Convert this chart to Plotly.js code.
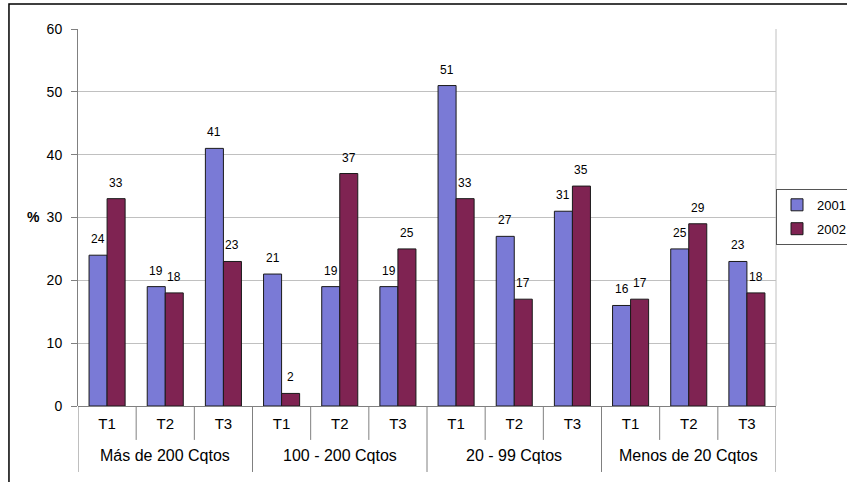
<!DOCTYPE html>
<html>
<head>
<meta charset="utf-8">
<script src="https://cdn.plot.ly/plotly-3.0.1.min.js"></script>
<style>
html,body{margin:0;padding:0;background:#fff;}
#chart{width:847px;height:482px;}
</style>
</head>
<body>
<div id="chart"></div>
<script>
const groups = ["Más de 200 Cqtos","Más de 200 Cqtos","Más de 200 Cqtos",
                "100 - 200 Cqtos","100 - 200 Cqtos","100 - 200 Cqtos",
                "20 - 99 Cqtos","20 - 99 Cqtos","20 - 99 Cqtos",
                "Menos de 20 Cqtos","Menos de 20 Cqtos","Menos de 20 Cqtos"];
const periods = ["T1","T2","T3","T1","T2","T3","T1","T2","T3","T1","T2","T3"];
const v2001 = [24,19,41,21,19,19,51,27,31,16,25,23];
const v2002 = [33,18,23,2,37,25,33,17,35,17,29,18];
const yTicks = [0,10,20,30,40,50,60];

const font = "Liberation Sans, Arial, sans-serif";
const BARGAP = 0.38;
const half = (1 - BARGAP) / 4; // offset of each bar centre from category centre
const idx = periods.map((_, i) => i);

const traces = [
  {type:"bar", name:"2001", legendgroup:"a", x:idx, y:v2001,
   marker:{color:"#7a7ad6", line:{color:"#1a1a1a", width:1}}},
  {type:"bar", name:"2002", legendgroup:"b", x:idx, y:v2002,
   marker:{color:"#7f2352", line:{color:"#1a1a1a", width:1}}}
];

const annotations = [];
// value labels above bars
[[v2001, -half], [v2002, half]].forEach(([vals, off]) => {
  vals.forEach((v, i) => {
    annotations.push({xref:"x", yref:"y", x:i + off, y:v, text:String(v), showarrow:false,
                      yanchor:"bottom", yshift:7, font:{family:font, size:12, color:"#000"}});
  });
});
// group labels (second category level)
const uniqueGroups = [...new Set(groups)];
uniqueGroups.forEach(g => {
  const members = idx.filter(i => groups[i] === g);
  const centre = members.reduce((a, b) => a + b, 0) / members.length;
  annotations.push({xref:"x", yref:"paper", x:centre, y:-0.1326, text:g, showarrow:false,
                    xanchor:"center", yanchor:"middle", font:{family:font, size:16, color:"#000"}});
});
// horizontal "%" axis label
annotations.push({xref:"paper", yref:"paper", x:-0.064, y:0.501, xanchor:"center", yanchor:"middle",
                  text:"<b>%</b>", showarrow:false, font:{family:font, size:14, color:"#000"}});

const shapes = [];
// cell dividers: short between periods, long between groups and at both ends
for (let i = -1; i < periods.length; i++) {
  const isGroupEdge = i === -1 || i === periods.length - 1 || groups[i] !== groups[i + 1];
  shapes.push({type:"line", xref:"x", yref:"paper", x0:i + 0.5, x1:i + 0.5, y0:0,
               y1:isGroupEdge ? -0.175 : -0.09, line:{color:"#808080", width:1}});
}
// plot area right border
shapes.push({type:"line", xref:"paper", yref:"paper", x0:1, x1:1, y0:0, y1:1,
             line:{color:"#c0c0c0", width:1}});
// outer chart border
shapes.push({type:"rect", xref:"paper", yref:"paper", x0:-0.0989, x1:1.3, y0:-0.3, y1:1.0663,
             line:{color:"#000", width:1.5}, fillcolor:"rgba(0,0,0,0)"});

const layout = {
  width:847, height:482,
  margin:{l:78, r:71, t:29, b:76, autoexpand:false},
  paper_bgcolor:"#fff", plot_bgcolor:"#fff",
  font:{family:font, size:14, color:"#000"},
  barmode:"group", bargap:BARGAP, bargroupgap:0,
  showlegend:true,
  legend:{x:1.0, xanchor:"left", y:0.576, yanchor:"top", bordercolor:"#555", borderwidth:1,
          font:{family:font, size:13}, traceorder:"grouped", tracegroupgap:4, bgcolor:"#fff"},
  xaxis:{range:[-0.5, periods.length - 0.5], tickvals:idx, ticktext:periods,
         showline:false, ticks:"", ticklabelstandoff:7, tickfont:{family:font, size:15},
         showgrid:false, zeroline:false},
  yaxis:{range:[0,60], tickvals:yTicks, showgrid:true, gridcolor:"#c0c0c0", gridwidth:1,
         showline:true, linecolor:"#808080", linewidth:1, ticks:"outside", ticklen:6, tickcolor:"#808080",
         ticklabelstandoff:6,
         zeroline:true, zerolinecolor:"#808080", zerolinewidth:1,
         tickfont:{family:font, size:14}},
  annotations:annotations,
  shapes:shapes
};

Plotly.newPlot("chart", traces, layout, {displayModeBar:false, staticPlot:true});
</script>
</body>
</html>
